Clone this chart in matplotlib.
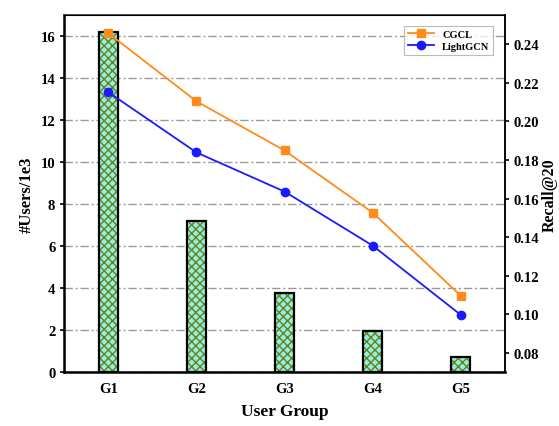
import numpy as np
import matplotlib
matplotlib.use("Agg")
import matplotlib.pyplot as plt

plt.rcParams["font.family"] = ["Liberation Serif", "DejaVu Serif"]
plt.rcParams["font.weight"] = "bold"

# --- Data ---
groups = ["G1", "G2", "G3", "G4", "G5"]
users_1e3 = [16.2, 7.2, 3.75, 1.95, 0.7]
recall_cgcl = [0.2457, 0.2104, 0.1849, 0.1527, 0.1096]
recall_lightgcn = [0.2151, 0.1839, 0.1636, 0.1356, 0.0997]

x = np.arange(len(groups))
width = 0.22

fig, ax = plt.subplots(figsize=(5.59, 4.27), dpi=100)
fig.subplots_adjust(left=0.115, right=0.903, top=0.962, bottom=0.126)

# hatched bars: coloured fill + hatch, then black outline on top
ax.bar(x, users_1e3, width, color="#8ef0e6", edgecolor="#6f7f10",
       hatch="xxxx", linewidth=0, zorder=2)
ax.bar(x, users_1e3, width, fill=False, edgecolor="black", linewidth=1.6, zorder=3)

ax.set_xlim(-0.5, 4.5)
ax.set_ylim(0, 17)
ax.set_yticks(range(0, 17, 2))
ax.set_xticks(x)
ax.set_xticklabels(groups)
ax.grid(axis="y", linestyle=(0, (6, 2, 1.5, 2)), color="#9a9a9a", linewidth=1.0, zorder=0)
ax.set_axisbelow(True)
ax.set_xlabel("User Group", fontsize=12.5, fontweight="bold", labelpad=6)
ax.set_ylabel("#Users/1e3", fontsize=12, fontweight="bold")
ax.tick_params(axis="both", labelsize=10.5, length=3, width=1.2)
ax.tick_params(axis="x", length=0, pad=7)
for s in ["left", "bottom"]:
    ax.spines[s].set_linewidth(1.8)
for s in ["top", "right"]:
    ax.spines[s].set_linewidth(1.2)
    ax.spines[s].set_color("#333333")

ax2 = ax.twinx()
ax2.plot(x, recall_cgcl, color="#ff8c1a", marker="s", markersize=6,
         linewidth=1.3, label="CGCL", zorder=4)
ax2.plot(x, recall_lightgcn, color="#1a1aff", marker="o", markersize=6,
         linewidth=1.3, label="LightGCN", zorder=4)
ax2.set_ylim(0.07, 0.255)
ax2.set_yticks([0.08, 0.10, 0.12, 0.14, 0.16, 0.18, 0.20, 0.22, 0.24])
ax2.set_yticklabels([f"{v:.2f}" for v in ax2.get_yticks()])
ax2.set_ylabel("Recall@20", fontsize=11.5, fontweight="bold", labelpad=2)
ax2.tick_params(axis="y", labelsize=10.5, length=3, width=1.2)
ax2.spines["right"].set_linewidth(1.2)

leg = ax2.legend(loc="upper right", fontsize=7.5, frameon=True, fancybox=False,
                 edgecolor="#aaaaaa", borderpad=0.35, handlelength=2.5,
                 labelspacing=0.3, bbox_to_anchor=(0.985, 0.985))
leg.get_frame().set_linewidth(0.8)

plt.savefig("out.png", dpi=100)
